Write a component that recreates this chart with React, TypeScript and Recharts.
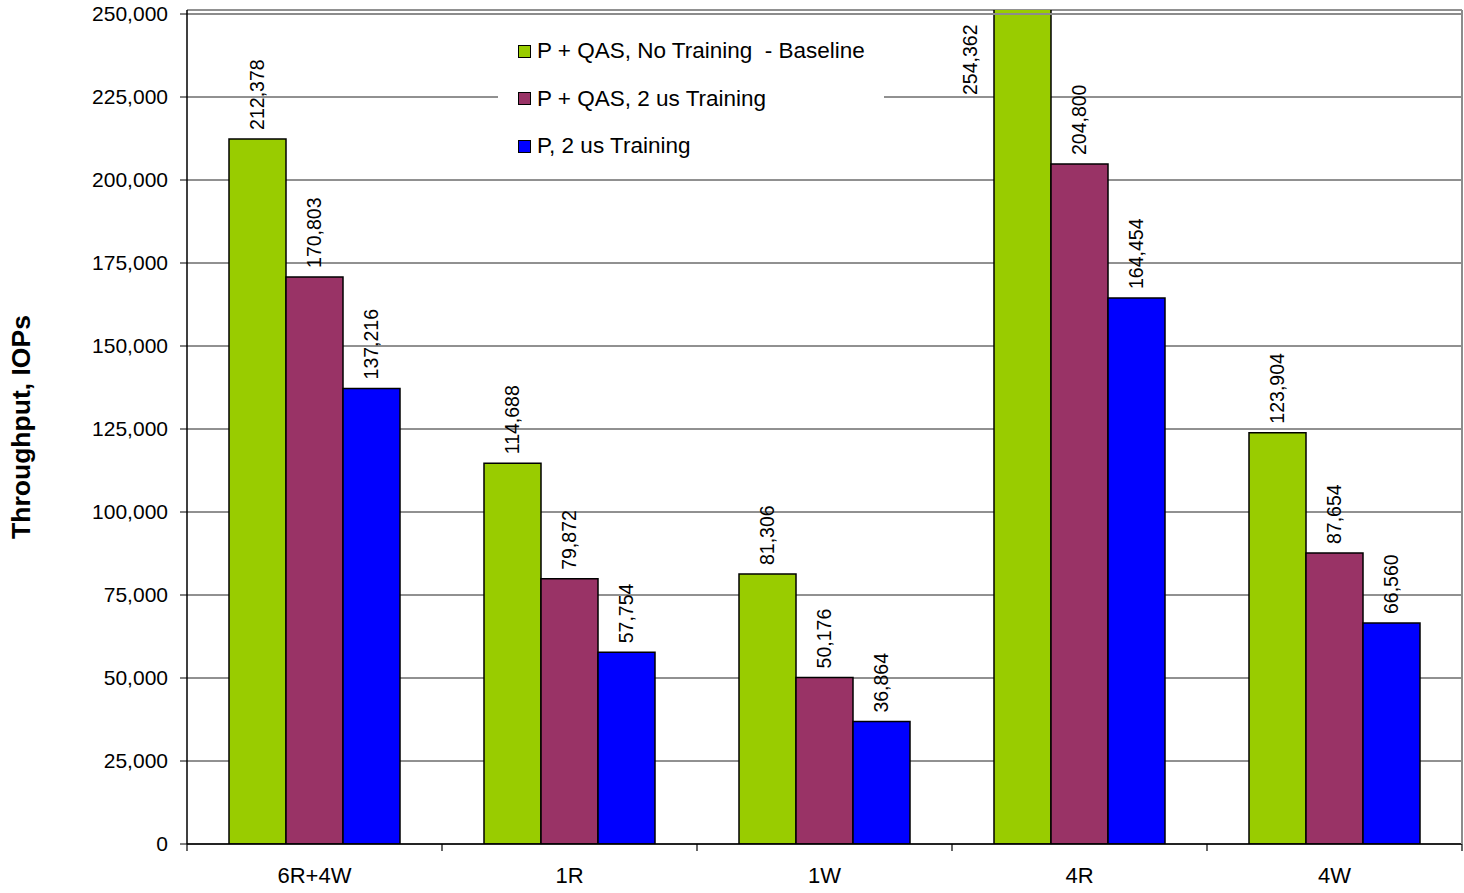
import React from 'react'
import { Bar, BarChart, CartesianGrid, LabelList, ReferenceLine, XAxis, YAxis } from 'recharts'

const categories = ['6R+4W', '1R', '1W', '4R', '4W']
const baseline = [212378, 114688, 81306, 254362, 123904]
const qasTraining = [170803, 79872, 50176, 204800, 87654]
const pTraining = [137216, 57754, 36864, 164454, 66560]
const yTicks = [0, 25000, 50000, 75000, 100000, 125000, 150000, 175000, 200000, 225000, 250000]

const seriesNames = ['P + QAS, No Training  - Baseline', 'P + QAS, 2 us Training', 'P, 2 us Training']
const seriesColors = ['#99CC00', '#993366', '#0000FF']
const yTitle = 'Throughput, IOPs'

const data = categories.map((name, i) => ({
  name,
  baseline: baseline[i],
  qasTraining: qasTraining[i],
  pTraining: pTraining[i],
}))
const seriesKeys = ['baseline', 'qasTraining', 'pTraining']

const W = 1464
const H = 893
const PLOT_LEFT = 187
const PLOT_RIGHT = 1462
const PLOT_TOP = 10
const PLOT_BOTTOM = 844
const BAND = (PLOT_RIGHT - PLOT_LEFT) / categories.length
const TOP_TICK = yTicks[yTicks.length - 1]
// frame sits a few px above the last tick so the tallest bar pokes past it
const Y_MAX = 251205
const FONT = '"Liberation Sans", Arial, sans-serif'

const fmt = (v: number) => v.toLocaleString('en-US')

function BarValue(props: any) {
  const vb = props.viewBox ?? props
  const { x, y, width } = vb
  const value = Number(props.value)
  const over = value > TOP_TICK
  const cx = over ? x - 24 : x + width / 2
  const cy = over ? PLOT_TOP + 85 : y - 9
  return (
    <text
      x={cx}
      y={cy}
      dy="0.35em"
      transform={`rotate(-90 ${cx} ${cy})`}
      textAnchor="start"
      fontSize={19.5}
      fontFamily={FONT}
      fill="#000"
    >
      {fmt(value)}
    </text>
  )
}

function CategoryTick(props: any) {
  const { x, y, payload, index } = props
  const left = x - BAND / 2
  const right = x + BAND / 2
  return (
    <g>
      <line x1={left} y1={y} x2={left} y2={y + 7} stroke="#000" strokeWidth={1.2} />
      {index === categories.length - 1 && (
        <line x1={right} y1={y} x2={right} y2={y + 7} stroke="#000" strokeWidth={1.2} />
      )}
      <text x={x} y={y + 39} textAnchor="middle" fontSize={22} fontFamily={FONT} fill="#000">
        {payload.value}
      </text>
    </g>
  )
}

function LegendBox() {
  return (
    <div
      style={{
        position: 'absolute',
        left: 498,
        top: 24,
        width: 386,
        height: 146,
        background: '#fff',
        fontFamily: FONT,
        fontSize: 22.5,
        color: '#000',
      }}
    >
      {seriesNames.map((name, i) => (
        <div
          key={name}
          style={{
            position: 'absolute',
            left: 20,
            top: 13 + i * 47.5,
            height: 28,
            display: 'flex',
            alignItems: 'center',
            whiteSpace: 'pre',
          }}
        >
          <span
            style={{
              display: 'inline-block',
              width: 11,
              height: 11,
              background: seriesColors[i],
              border: '1.5px solid #000',
              marginRight: 6,
            }}
          />
          <span>{name}</span>
        </div>
      ))}
    </div>
  )
}

export default function App() {
  return (
    <div style={{ position: 'absolute', left: 0, top: 0, width: W, height: H, background: '#fff' }}>
      <BarChart
        width={W}
        height={H}
        data={data}
        margin={{ top: PLOT_TOP, right: 0, bottom: 0, left: 0 }}
        barCategoryGap={42}
        barGap={0}
      >
        <CartesianGrid vertical={false} stroke="#222" strokeWidth={1} />
        <XAxis
          dataKey="name"
          height={H - PLOT_BOTTOM}
          axisLine={{ stroke: '#000', strokeWidth: 1.5 }}
          tickLine={false}
          tickSize={0}
          tickMargin={0}
          tick={<CategoryTick />}
          interval={0}
        />
        <YAxis
          width={PLOT_LEFT}
          domain={[0, Y_MAX]}
          allowDataOverflow
          ticks={yTicks}
          interval={0}
          tickFormatter={fmt}
          tickSize={7}
          tickMargin={12}
          axisLine={{ stroke: '#000', strokeWidth: 1.5 }}
          tickLine={{ stroke: '#000' }}
          tick={{ fill: '#000', fontSize: 21, fontFamily: FONT }}
          label={{
            value: yTitle,
            angle: -90,
            position: 'center',
            dx: -73,
            style: { fontSize: 26.5, fontWeight: 'bold', fontFamily: FONT, fill: '#000' },
          }}
        />
        <YAxis
          yAxisId="frame"
          orientation="right"
          width={W - PLOT_RIGHT}
          tick={false}
          tickLine={false}
          axisLine={{ stroke: '#8c8c8c', strokeWidth: 2 }}
        />
        <ReferenceLine y={TOP_TICK} stroke="#8c8c8c" strokeWidth={2} />
        {seriesKeys.map((key, i) => (
          <Bar
            key={key}
            dataKey={key}
            name={seriesNames[i]}
            fill={seriesColors[i]}
            stroke="#000"
            strokeWidth={1.5}
            isAnimationActive={false}
          >
            <LabelList dataKey={key} content={<BarValue />} />
          </Bar>
        ))}
      </BarChart>
      <LegendBox />
    </div>
  )
}
